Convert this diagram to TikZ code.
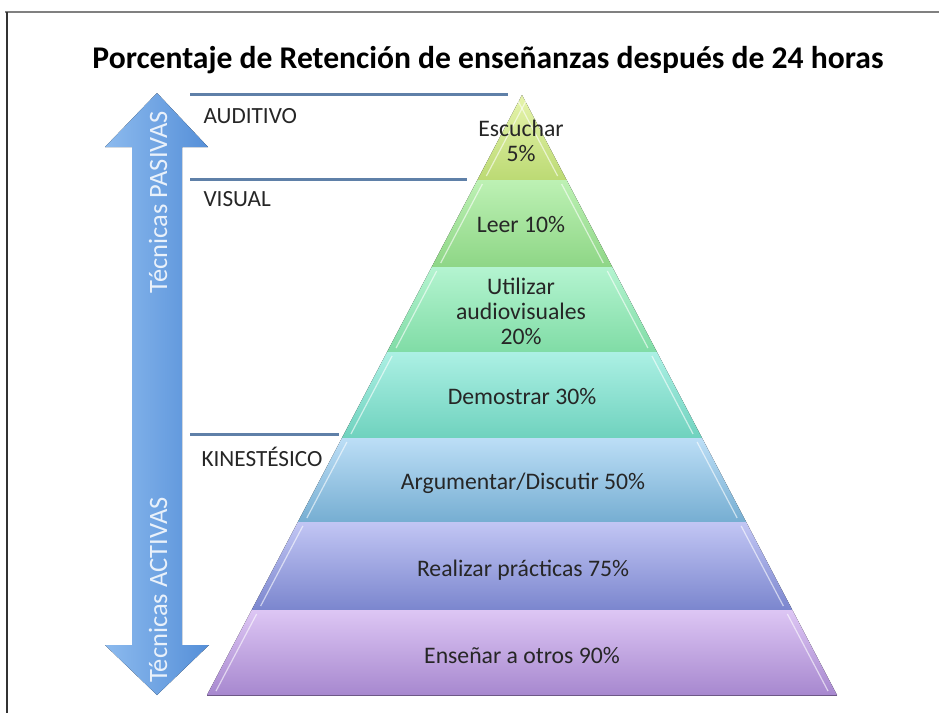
\documentclass[tikz,border=0pt]{standalone}
\usepackage{fontspec}
\setmainfont{Carlito}
\usetikzlibrary{positioning}

\definecolor{escA}{HTML}{E6F4AC}
\definecolor{escB}{HTML}{BCDA74}
\definecolor{leeA}{HTML}{BDF1B4}
\definecolor{leeB}{HTML}{8ED686}
\definecolor{utiA}{HTML}{B4F4D0}
\definecolor{utiB}{HTML}{80DCA6}
\definecolor{demA}{HTML}{ACF0E4}
\definecolor{demB}{HTML}{6FD2BE}
\definecolor{argA}{HTML}{BCDEF6}
\definecolor{argB}{HTML}{76AED2}
\definecolor{reaA}{HTML}{C2C6F4}
\definecolor{reaB}{HTML}{7B86CE}
\definecolor{ensA}{HTML}{DDC6F4}
\definecolor{ensB}{HTML}{A788CF}
\definecolor{arrA}{HTML}{8CBAEE}
\definecolor{arrB}{HTML}{558FD8}
\definecolor{divblue}{HTML}{5F80A8}

\begin{document}
\begin{tikzpicture}[x=1pt,y=-1pt,
layerlabel/.style={font=\fontsize{23.7}{25}\selectfont, align=center, text=black!85},
sidelabel/.style={font=\fontsize{23.2}{25}\selectfont, anchor=west, text=black!85},
divline/.style={line width=3pt, draw=divblue},
arrowtext/.style={font=\fontsize{26.5}{28}\selectfont, rotate=90, text=white, opacity=0.85}
]
\useasboundingbox (0,0) rectangle (939,713);

% frame
\draw[gray, line width=2pt] (5,12) -- (939,12);
\draw[black!80, line width=1.5pt] (7,12) -- (7,713);

% title
\node[font=\fontsize{31.6}{34}\selectfont\bfseries] (title) at (488,60) {Porcentaje de Retención de enseñanzas después de 24 horas};

% double arrow
\fill[left color=arrA, right color=arrB]
  (157,93) -- (208,147) -- (182,147) -- (182,645) -- (209,645) -- (157,695)
  -- (105,645) -- (132,645) -- (132,147) -- (105,147) -- cycle;
\node[arrowtext] (pasivas) at (158,202) {Técnicas PASIVAS};
\node[arrowtext] (activas) at (158,590) {Técnicas ACTIVAS};

% pyramid layers
\foreach \ya/\yb/\ct/\cb in {95/180/escA/escB, 180/267/leeA/leeB, 267/352/utiA/utiB,
  352/438/demA/demB, 438/522/argA/argB, 522/610/reaA/reaB, 610/695/ensA/ensB}{
  \fill[top color=\ct, bottom color=\cb]
    ({522-0.525*(\ya-95)},\ya) -- ({522+0.525*(\ya-95)},\ya)
    -- ({522+0.525*(\yb-95)},\yb) -- ({522-0.525*(\yb-95)},\yb) -- cycle;
  \draw[white, opacity=0.6, line width=1.2pt]
    ({522-0.525*(\ya-95)+5},{\ya+4}) -- ({522-0.525*(\yb-95)+9},{\yb-4});
  \draw[white, opacity=0.6, line width=1.2pt]
    ({522+0.525*(\ya-95)-5},{\ya+4}) -- ({522+0.525*(\yb-95)-9},{\yb-4});
  \draw[\cb!65!black, line width=0.9pt]
    ({522-0.525*(\yb-95)},\yb) -- ({522+0.525*(\yb-95)},\yb);
}

% labels
\node[layerlabel] (escuchar) at (521,141) {Escuchar\\5\%};
\node[layerlabel] (leer) at (521,225) {Leer 10\%};
\node[layerlabel] (utilizar) at (521,311) {Utilizar\\audiovisuales\\20\%};
\node[layerlabel] (demostrar) at (522,397) {Demostrar 30\%};
\node[layerlabel] (argumentar) at (523,483) {Argumentar/Discutir 50\%};
\node[layerlabel] (realizar) at (523,570) {Realizar prácticas 75\%};
\node[layerlabel] (ensenar) at (522,656) {Enseñar a otros 90\%};

% side categories
\coordinate (audA) at (190,94);  \coordinate (audB) at (508,94);
\coordinate (visA) at (190,179); \coordinate (visB) at (467,179);
\coordinate (kinA) at (190,434); \coordinate (kinB) at (339,434);
\draw[divline] (audA) -- (audB);
\draw[divline] (visA) -- (visB);
\draw[divline] (kinA) -- (kinB);
\node[sidelabel] (auditivo) at (200,116) {AUDITIVO};
\node[sidelabel] (visual) at (200,199) {VISUAL};
\node[sidelabel] (kinestesico) at (198,457) {KINESTÉSICO};
\end{tikzpicture}
\end{document}
